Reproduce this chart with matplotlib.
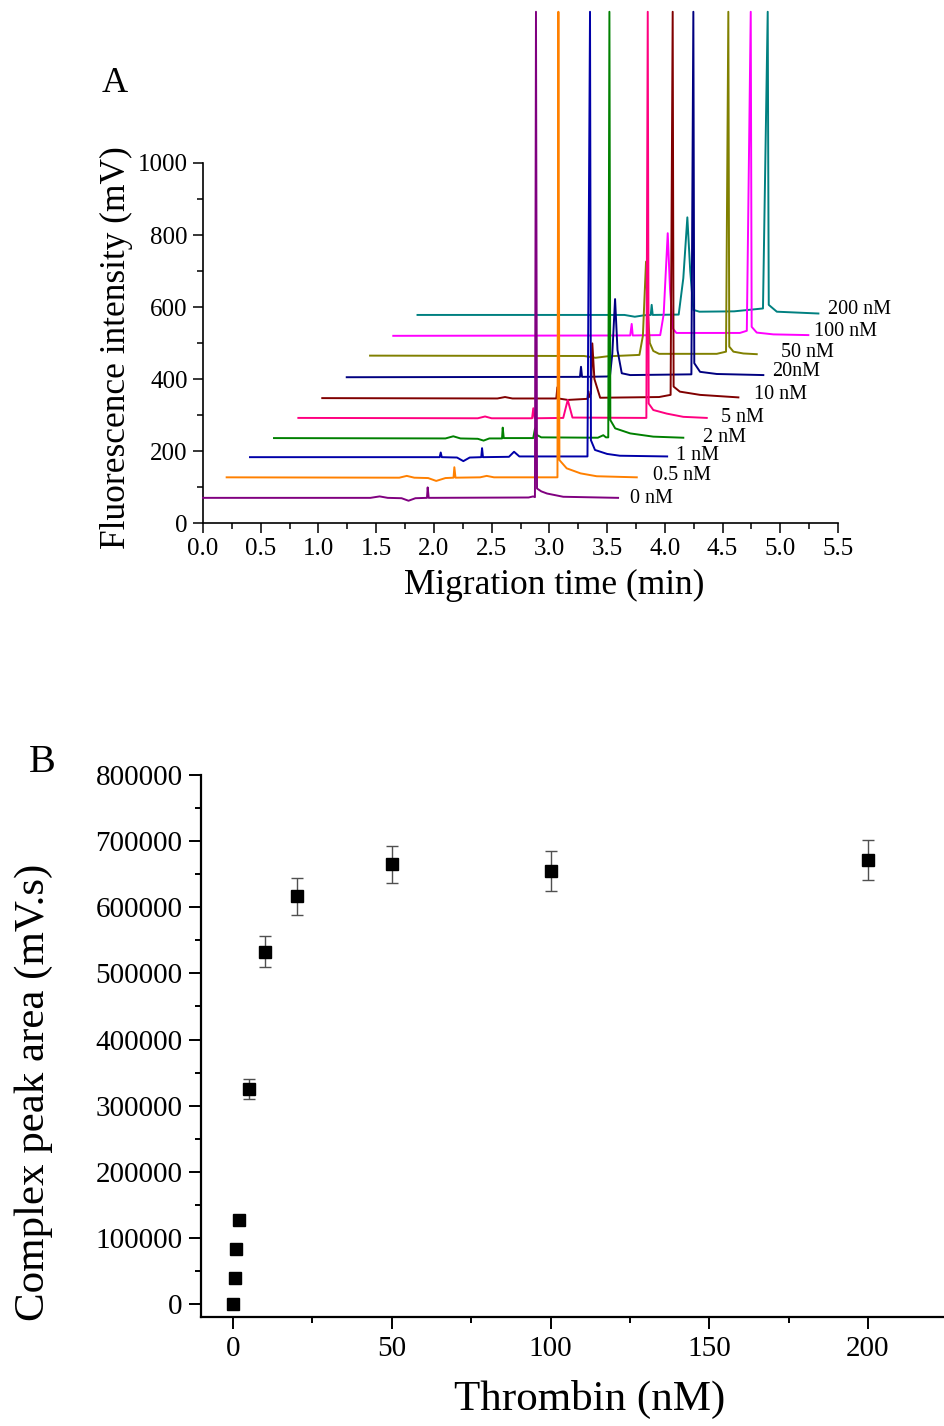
import matplotlib
matplotlib.use('Agg')
import matplotlib.pyplot as plt
from matplotlib.ticker import MultipleLocator, FormatStrFormatter

plt.rcParams['font.family'] = ['Liberation Serif', 'DejaVu Serif']

# ---- panel A: electropherograms (key points) ----
conc_labels = ['0 nM', '0.5 nM', '1 nM', '2 nM', '5 nM', '10 nM', '20nM', '50 nM', '100 nM', '200 nM']
trace_colors = ['#800080', '#FF8000', '#0000A8', '#008000', '#FF0080',
                '#800000', '#000080', '#808000', '#FF00FF', '#008080']

t_0 = [0.0, 1.45, 1.53, 1.60, 1.72, 1.78, 1.84, 1.94, 1.946, 1.955, 2.82, 2.86, 2.875, 2.884, 2.893, 2.93, 2.98, 3.12, 3.595]
i_0 = [70, 70, 74, 70, 69, 62, 69, 70, 99, 70, 71, 74, 72, 1420, 96, 88, 82, 73, 70]

t_05 = [0.205, 1.70, 1.765, 1.83, 1.95, 2.02, 2.10, 2.17, 2.177, 2.187, 2.40, 2.457, 2.52, 3.07, 3.078, 3.087, 3.15, 3.27, 3.41, 3.757]
i_05 = [127, 126, 131, 126, 125, 117, 125, 126, 155, 126, 127, 131, 127, 127, 1420, 175, 152, 138, 130, 127]

t_1 = [0.407, 2.05, 2.059, 2.068, 2.20, 2.255, 2.31, 2.41, 2.417, 2.425, 2.65, 2.694, 2.74, 3.33, 3.352, 3.36, 3.395, 3.50, 3.61, 4.02]
i_1 = [183, 183, 196, 183, 182, 172, 182, 183, 208, 183, 184, 198, 185, 185, 1420, 230, 203, 192, 187, 185]

t_2 = [0.615, 2.10, 2.168, 2.23, 2.38, 2.43, 2.48, 2.59, 2.596, 2.605, 2.86, 2.876, 2.89, 2.93, 3.42, 3.467, 3.49, 3.51, 3.52, 3.528, 3.57, 3.70, 3.90, 4.16]
i_2 = [236, 235, 241, 235, 234, 229, 235, 235, 265, 236, 236, 263, 245, 238, 237, 244, 238, 238, 1420, 286, 263, 249, 240, 237]

t_5 = [0.826, 2.38, 2.443, 2.50, 2.85, 2.861, 2.872, 3.12, 3.159, 3.20, 3.84, 3.852, 3.86, 3.90, 4.016, 4.16, 4.363]
i_5 = [292, 291, 296, 291, 291, 319, 291, 292, 342, 293, 292, 1420, 332, 314, 304, 295, 292]

t_10 = [1.033, 2.55, 2.616, 2.68, 3.06, 3.069, 3.078, 3.16, 3.33, 3.337, 3.345, 3.36, 3.372, 3.39, 3.44, 3.95, 4.05, 4.068, 4.076, 4.13, 4.305, 4.637]
i_10 = [347, 346, 350, 346, 346, 377, 346, 342, 345, 366, 350, 360, 499, 400, 348, 350, 356, 1420, 379, 365, 356, 349]

t_20 = [1.245, 3.265, 3.274, 3.283, 3.50, 3.525, 3.545, 3.569, 3.59, 3.627, 3.70, 4.23, 4.247, 4.255, 4.305, 4.45, 4.853]
i_20 = [405, 406, 434, 406, 407, 409, 470, 622, 480, 416, 411, 413, 1420, 444, 420, 414, 411]

t_50 = [1.447, 3.30, 3.40, 3.50, 3.78, 3.81, 3.837, 3.85, 3.87, 3.90, 3.95, 4.45, 4.53, 4.55, 4.558, 4.594, 4.68, 4.796]
i_50 = [465, 464, 459, 463, 467, 520, 726, 600, 500, 478, 470, 470, 476, 1420, 490, 476, 471, 469]

t_100 = [1.648, 3.70, 3.713, 3.722, 3.96, 3.99, 4.025, 4.045, 4.07, 4.10, 4.65, 4.71, 4.744, 4.752, 4.796, 4.94, 5.243]
i_100 = [520, 521, 553, 521, 522, 580, 805, 650, 540, 528, 528, 534, 1420, 545, 529, 524, 522]

t_200 = [1.858, 3.65, 3.74, 3.82, 3.878, 3.886, 3.895, 4.12, 4.16, 4.195, 4.22, 4.247, 4.30, 4.60, 4.85, 4.891, 4.90, 4.97, 5.33]
i_200 = [578, 578, 573, 577, 578, 606, 578, 579, 680, 849, 700, 592, 587, 588, 596, 1420, 606, 587, 582]

traces = [(t_0, i_0), (t_05, i_05), (t_1, i_1), (t_2, i_2), (t_5, i_5),
          (t_10, i_10), (t_20, i_20), (t_50, i_50), (t_100, i_100), (t_200, i_200)]

# where the concentration labels sit (min, mV)
label_t = [3.70, 3.90, 4.10, 4.33, 4.49, 4.77, 4.93, 5.01, 5.29, 5.41]
label_mv = [69, 131, 189, 239, 294, 356, 422, 475, 533, 592]

# ---- panel B: calibration ----
thrombin = [0, 0.5, 1, 2, 5, 10, 20, 50, 100, 200]
peak_area = [0, 39400, 83300, 127000, 325000, 533000, 617000, 665000, 655000, 671000]
area_err = [0, 0, 0, 0, 15000, 24000, 28000, 28000, 30000, 30500]


fig = plt.figure(figsize=(9.45, 14.26), dpi=100)

# panel A
axA = fig.add_axes([0.2148, 0.6332, 0.672, 0.2525])
n = len(traces)
for k, ((t, y), c) in enumerate(zip(traces, trace_colors)):
    axA.plot(t, y, color=c, lw=1.4, clip_on=False, zorder=3 + n - k)
for lab, tx, ty in zip(conc_labels, label_t, label_mv):
    axA.text(tx, ty, lab, fontsize=14.5, ha='left', va='center')

axA.set_xlim(0, 5.5)
axA.set_ylim(0, 1000)
axA.xaxis.set_major_locator(MultipleLocator(0.5))
axA.xaxis.set_minor_locator(MultipleLocator(0.25))
axA.xaxis.set_major_formatter(FormatStrFormatter('%.1f'))
axA.yaxis.set_major_locator(MultipleLocator(200))
axA.yaxis.set_minor_locator(MultipleLocator(100))
axA.tick_params(which='major', direction='out', length=7, width=1.1, labelsize=18, pad=4)
axA.tick_params(which='minor', direction='out', length=4, width=1.1)
for side in ['top', 'right']:
    axA.spines[side].set_visible(False)
for side in ['left', 'bottom']:
    axA.spines[side].set_linewidth(1.2)

fig.text(116 / 945, 1 - 348 / 1426, 'Fluorescence intensity (mV)', rotation=90,
         ha='center', va='center', fontsize=25.5)
fig.text(554 / 945, 1 - 585 / 1426, 'Migration time (min)', ha='center', va='center', fontsize=25.5)
fig.text(115 / 945, 1 - 83 / 1426, 'A', ha='center', va='center', fontsize=26)

# panel B
axB = fig.add_axes([0.2130, 0.0763, 0.8231, 0.3802])
axB.errorbar(thrombin, peak_area, yerr=area_err, fmt='s', color='black', ms=9,
             ecolor='#505050', elinewidth=1, capsize=4, capthick=1, zorder=3)
axB.set_xlim(-10, 235)
axB.set_ylim(-20000, 800000)
axB.set_xticks([0, 50, 100, 150, 200])
axB.xaxis.set_minor_locator(MultipleLocator(25))
axB.yaxis.set_major_locator(MultipleLocator(100000))
axB.yaxis.set_minor_locator(MultipleLocator(50000))
axB.yaxis.set_major_formatter(FormatStrFormatter('%d'))
axB.tick_params(which='major', direction='out', length=8.5, width=1.4, labelsize=21, pad=5)
axB.tick_params(which='minor', direction='out', length=4.5, width=1.4)
for side in ['top', 'right']:
    axB.spines[side].set_visible(False)
for side in ['left', 'bottom']:
    axB.spines[side].set_linewidth(1.6)

fig.text(34 / 945, 1 - 1092 / 1426, 'Complex peak area (mV.s)', rotation=90,
         ha='center', va='center', fontsize=31)
fig.text(590 / 945, 1 - 1399 / 1426, 'Thrombin (nM)', ha='center', va='center', fontsize=31)
fig.text(42 / 945, 1 - 763 / 1426, 'B', ha='center', va='center', fontsize=29)

fig.savefig('out.png', dpi=100)
